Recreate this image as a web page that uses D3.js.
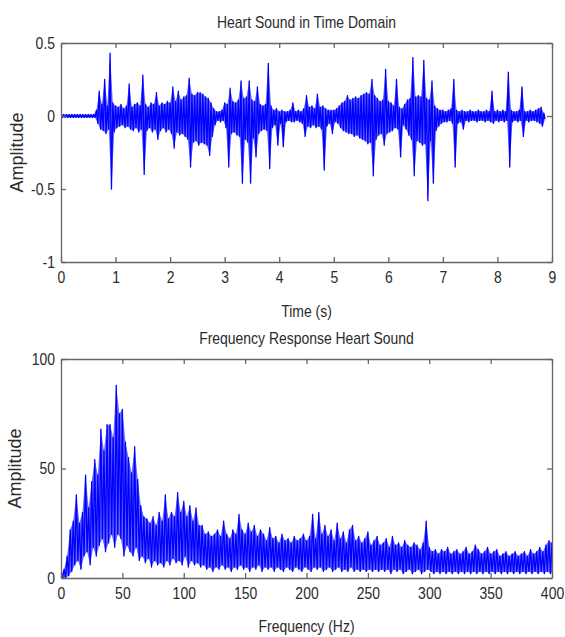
<!DOCTYPE html>
<html lang="en">
<head>
<meta charset="UTF-8">
<title>Heart Sound</title>
<script src="https://d3js.org/d3.v7.min.js"></script>
<style>
body { margin: 0; background: #fff; }
svg text { font-family: "Liberation Sans Narrow", "Liberation Sans", Arial, sans-serif; font-size: 17px; fill: #2b2b2b; }
</style>
</head>
<body>
<div class="chart"></div>
<script>
// time signal: upper / lower excursion per 0.05 s sample
var timeStep = 0.05;
var timeHi = [
  0.01,0.01,0.01,0.01,0.01,0.01,0.01,0.01,0.01,0.01,
  0.01,0.01,0.01,0.04,0.17,0.08,0.25,0.07,0.43,0.09,
  0.07,0.06,0.08,0.05,0.07,0.22,0.06,0.08,0.09,0.07,
  0.28,0.08,0.06,0.09,0.08,0.16,0.07,0.09,0.08,0.10,
  0.09,0.20,0.10,0.17,0.11,0.13,0.14,0.26,0.15,0.14,
  0.16,0.16,0.15,0.13,0.12,0.09,0.05,0.03,0.03,0.04,
  0.09,0.08,0.19,0.10,0.09,0.11,0.24,0.12,0.13,0.24,
  0.11,0.10,0.20,0.08,0.07,0.08,0.36,0.07,0.04,0.05,
  0.03,0.04,0.03,0.03,0.04,0.09,0.03,0.04,0.03,0.05,
  0.14,0.06,0.07,0.05,0.15,0.06,0.07,0.05,0.04,0.04,
  0.04,0.05,0.07,0.09,0.10,0.14,0.11,0.12,0.13,0.12,
  0.14,0.15,0.16,0.15,0.25,0.14,0.12,0.10,0.11,0.32,
  0.10,0.09,0.07,0.25,0.06,0.05,0.08,0.11,0.12,0.40,
  0.13,0.14,0.13,0.38,0.12,0.11,0.24,0.07,0.05,0.04,
  0.04,0.03,0.04,0.05,0.25,0.04,0.03,0.04,0.03,0.03,
  0.04,0.03,0.03,0.04,0.03,0.03,0.04,0.03,0.17,0.03,
  0.04,0.03,0.04,0.03,0.30,0.04,0.03,0.03,0.04,0.20,
  0.03,0.03,0.04,0.03,0.04,0.05,0.06,0.02
];
var timeLo = [
  -0.01,-0.01,-0.01,-0.01,-0.01,-0.01,-0.01,-0.01,-0.01,-0.01,
  -0.01,-0.01,-0.01,-0.05,-0.09,-0.10,-0.12,-0.09,-0.50,-0.11,
  -0.08,-0.07,-0.06,-0.08,-0.07,-0.09,-0.10,-0.08,-0.11,-0.09,
  -0.40,-0.10,-0.08,-0.11,-0.09,-0.16,-0.10,-0.08,-0.11,-0.09,
  -0.12,-0.22,-0.11,-0.13,-0.12,-0.14,-0.16,-0.35,-0.18,-0.17,
  -0.20,-0.18,-0.19,-0.20,-0.27,-0.14,-0.06,-0.03,-0.04,-0.03,
  -0.08,-0.35,-0.12,-0.11,-0.13,-0.14,-0.46,-0.16,-0.18,-0.46,
  -0.15,-0.28,-0.12,-0.10,-0.09,-0.10,-0.36,-0.08,-0.06,-0.20,
  -0.05,-0.21,-0.04,-0.03,-0.04,-0.04,-0.03,-0.04,-0.05,-0.14,
  -0.07,-0.08,-0.06,-0.08,-0.07,-0.09,-0.37,-0.07,-0.05,-0.12,
  -0.04,-0.05,-0.08,-0.10,-0.11,-0.12,-0.12,-0.14,-0.13,-0.15,
  -0.16,-0.17,-0.19,-0.18,-0.41,-0.16,-0.13,-0.12,-0.20,-0.12,
  -0.11,-0.10,-0.08,-0.09,-0.28,-0.06,-0.09,-0.13,-0.16,-0.41,
  -0.17,-0.18,-0.20,-0.19,-0.58,-0.17,-0.46,-0.10,-0.07,-0.05,
  -0.04,-0.04,-0.03,-0.05,-0.35,-0.05,-0.04,-0.09,-0.03,-0.04,
  -0.03,-0.03,-0.04,-0.03,-0.03,-0.04,-0.03,-0.04,-0.05,-0.03,
  -0.04,-0.03,-0.04,-0.03,-0.35,-0.04,-0.03,-0.04,-0.03,-0.14,
  -0.03,-0.04,-0.03,-0.03,-0.04,-0.05,-0.07,-0.02
];

// spectrum: upper / lower value per 2.5 Hz bin
var freqStep = 2.5;
var freqHi = [
  1,4,10,22,26,38,25,30,47,32,
  44,54,47,68,58,70,70,64,88,75,
  77,62,55,48,60,45,33,28,27,25,
  28,24,30,26,38,27,30,28,39,30,
  35,28,33,26,32,24,24,20,21,19,
  20,22,19,26,20,18,22,20,29,22,
  20,25,21,24,19,22,20,17,23,18,
  19,16,20,17,18,16,19,17,18,20,
  17,19,29,18,30,20,24,19,22,17,
  25,18,21,16,22,24,17,19,16,18,
  21,15,17,19,15,16,18,14,19,15,
  16,14,17,15,14,16,15,13,16,26,
  14,12,13,11,13,12,14,11,12,13,
  11,12,14,11,12,15,13,11,12,14,
  11,12,13,10,11,12,10,11,12,10,
  11,12,10,13,11,12,14,12,15,17,
  16
];
var freqLo = [
  0,0,1,3,6,8,4,10,12,6,
  14,10,15,18,12,16,20,14,20,18,
  10,15,12,10,14,8,10,7,9,5,
  8,6,7,5,8,6,9,7,8,6,
  10,5,8,6,7,5,6,4,5,3,
  5,4,6,4,5,3,5,4,6,4,
  5,3,5,4,6,3,5,4,5,3,
  5,4,3,5,4,3,5,4,3,5,
  4,3,5,4,5,3,4,5,3,4,
  5,3,4,3,5,3,4,3,4,3,
  4,3,4,3,4,3,4,2,4,3,
  4,2,3,4,2,3,4,2,3,4,
  3,2,3,2,3,2,3,2,3,2,
  3,2,3,2,3,2,3,2,3,2,
  3,2,3,2,3,2,3,2,3,2,
  3,2,3,2,3,2,3,2,3,2,
  3
];

var timeTicks = [0,1,2,3,4,5,6,7,8,9];
var ampTicks = [-1,-0.5,0,0.5];
var freqTicks = [0,50,100,150,200,250,300,350,400];
var specTicks = [0,50,100];

var svg = d3.select(".chart").append("svg")
    .attr("width", 565)
    .attr("height", 637);

var box1 = {left: 61, right: 552, top: 43, bottom: 262};
var box2 = {left: 61, right: 552, top: 359, bottom: 578};

var xTime = d3.scaleLinear().domain([0, 9]).range([box1.left, box1.right]);
var yTime = d3.scaleLinear().domain([-1, 0.5]).range([box1.bottom, box1.top]);
var xFreq = d3.scaleLinear().domain([0, 400]).range([box2.left, box2.right]);
var yFreq = d3.scaleLinear().domain([0, 100]).range([box2.bottom, box2.top]);

function panel(box, x, y, xTicks, yTicks, hi, lo, step, id) {
  svg.append("clipPath").attr("id", id)
    .append("rect")
      .attr("x", box.left).attr("y", box.top)
      .attr("width", box.right - box.left)
      .attr("height", box.bottom - box.top);

  var rows = hi.map(function(h, i) { return {i: i, hi: h, lo: lo[i]}; });
  var xHi = function(d) { return x(d.i * step); };
  var xLo = function(d) { return x(d.i * step + step / 2); };

  // light fill between the excursions, so the dense part reads as solid
  svg.append("path")
      .datum(rows)
      .attr("clip-path", "url(#" + id + ")")
      .attr("d", d3.area().x1(xHi).y1(d => y(d.hi)).x0(xLo).y0(d => y(d.lo)))
      .style("fill", "#0000ff")
      .style("fill-opacity", 0.6)
      .style("stroke", "none");

  // each sample swings up to its high value, then down to its low value
  var pts = [];
  rows.forEach(function(d) {
    pts.push([xHi(d), y(d.hi)]);
    pts.push([xLo(d), y(d.lo)]);
  });

  svg.append("path")
      .attr("clip-path", "url(#" + id + ")")
      .attr("d", d3.line()(pts))
      .style("fill", "none")
      .style("stroke", "#0000ff")
      .style("stroke-width", 1.3)
      .style("stroke-linejoin", "round");

  var fmt = function(d) { return String(d); };

  svg.append("g")
      .attr("transform", "translate(0," + box.bottom + ")")
      .call(d3.axisBottom(x).tickValues(xTicks).tickSizeInner(-5).tickSizeOuter(0).tickPadding(9).tickFormat(fmt));
  svg.append("g")
      .attr("transform", "translate(0," + box.top + ")")
      .call(d3.axisTop(x).tickValues(xTicks).tickSizeInner(-5).tickSizeOuter(0).tickFormat(""));
  svg.append("g")
      .attr("transform", "translate(" + box.left + ",0)")
      .call(d3.axisLeft(y).tickValues(yTicks).tickSizeInner(-5).tickSizeOuter(0).tickPadding(6).tickFormat(fmt));
  svg.append("g")
      .attr("transform", "translate(" + box.right + ",0)")
      .call(d3.axisRight(y).tickValues(yTicks).tickSizeInner(-5).tickSizeOuter(0).tickFormat(""));
}

panel(box1, xTime, yTime, timeTicks, ampTicks, timeHi, timeLo, timeStep, "clip1");
panel(box2, xFreq, yFreq, freqTicks, specTicks, freqHi, freqLo, freqStep, "clip2");

svg.selectAll(".domain, .tick line")
    .attr("stroke", "#666")
    .attr("stroke-width", 1.3);

// titles and axis labels
var midX = (box1.left + box1.right) / 2;
svg.append("text").attr("x", midX).attr("y", 28)
    .style("text-anchor", "middle").text("Heart Sound in Time Domain");
svg.append("text").attr("x", midX).attr("y", 317)
    .style("text-anchor", "middle").text("Time (s)");
svg.append("text").attr("x", midX).attr("y", 344)
    .style("text-anchor", "middle").text("Frequency Response Heart Sound");
svg.append("text").attr("x", midX).attr("y", 632)
    .style("text-anchor", "middle").text("Frequency (Hz)");

// the original lettering is a narrow face: squeeze the horizontal labels
svg.selectAll("text").each(function() {
  var len = this.getComputedTextLength();
  if (len > 0) {
    d3.select(this)
        .attr("textLength", len * 0.82)
        .attr("lengthAdjust", "spacingAndGlyphs");
  }
});

svg.append("text")
    .attr("transform", "translate(23," + (box1.top + box1.bottom) / 2 + ") rotate(-90)")
    .style("text-anchor", "middle").style("font-size", "18px").text("Amplitude");
svg.append("text")
    .attr("transform", "translate(21," + (box2.top + box2.bottom) / 2 + ") rotate(-90)")
    .style("text-anchor", "middle").style("font-size", "18px").text("Amplitude");
</script>
</body>
</html>
